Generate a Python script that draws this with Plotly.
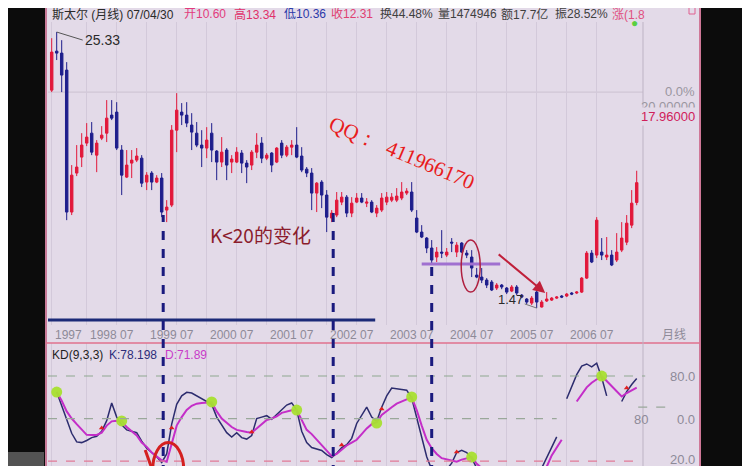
import plotly.graph_objects as go

W, H = 750, 466

# ---------------- data ----------------
tick_pos = [0, 7, 13, 19, 25, 31, 37, 43, 49, 55, 61, 67, 73, 79, 85, 91, 97, 103, 109]
tick_text = ["1997", "1998", "07", "1999", "07", "2000", "07", "2001", "07", "2002", "07",
             "2003", "07", "2004", "07", "2005", "07", "2006", "07"]

open_ = [20.31, 23.68, 23.51, 22.04, 9.77, 13.14, 14.52, 15.73, 16.59, 14.69,
         16.16, 16.59, 18.15, 18.41, 15.13, 12.79, 14.00, 14.26, 14.43, 12.36,
         13.14, 12.36, 12.71, 9.94, 10.37, 16.85, 18.41, 18.15, 17.29, 16.59,
         15.56, 15.30, 16.59, 15.04, 14.09, 15.13, 14.09, 14.09, 14.87, 14.00,
         13.83, 14.95, 15.73, 14.43, 14.87, 14.09, 15.73, 14.69, 15.38, 15.56,
         14.61, 13.48, 13.14, 11.41, 12.36, 11.24, 9.25, 9.51, 10.63, 11.06,
         9.68, 10.63, 10.98, 10.54, 10.63, 9.68, 9.94, 10.63, 10.80, 10.80,
         10.98, 11.41, 11.50, 9.25, 8.04, 7.52, 6.66, 5.88, 6.31, 6.05,
         7.17, 6.31, 7.09, 6.22, 5.88, 4.32, 4.15, 3.89, 3.72, 3.20,
         3.46, 3.20, 2.94, 3.29, 2.59, 2.25, 1.90, 2.85, 1.56, 2.08,
         2.16, 2.33, 2.51, 2.51, 2.77, 2.77, 2.85, 4.06, 6.22, 6.05,
         6.31, 5.88, 6.05, 5.62, 6.48, 7.17, 8.64, 10.60]
high = [24.80, 25.33, 24.63, 22.73, 13.83, 15.56, 16.59, 17.46, 17.55, 15.99,
        17.20, 19.45, 19.45, 19.27, 15.56, 15.13, 15.13, 15.30, 14.69, 13.22,
        13.31, 12.96, 13.14, 10.80, 17.29, 20.05, 19.19, 19.27, 18.32, 17.55,
        16.85, 17.11, 17.46, 15.13, 16.25, 15.30, 14.69, 15.38, 15.13, 14.26,
        15.13, 16.59, 16.25, 14.87, 14.95, 15.38, 15.99, 15.56, 15.99, 17.11,
        15.38, 13.66, 13.57, 12.36, 12.53, 11.67, 9.94, 11.50, 11.50, 11.24,
        11.06, 11.41, 11.41, 10.98, 10.80, 10.37, 11.41, 11.50, 11.41, 11.84,
        12.36, 11.84, 12.36, 9.94, 8.64, 7.61, 7.35, 6.74, 8.21, 6.66,
        7.52, 7.17, 7.17, 6.48, 6.48, 4.93, 4.93, 4.06, 3.89, 3.63,
        3.55, 3.29, 3.46, 3.46, 2.68, 2.33, 2.51, 3.03, 2.16, 2.85,
        2.42, 2.51, 2.59, 2.77, 2.85, 2.94, 4.15, 6.40, 6.48, 9.33,
        7.52, 7.61, 6.48, 7.95, 8.90, 9.51, 11.67, 13.34]
low = [20.14, 22.91, 20.14, 9.07, 9.51, 12.88, 13.66, 15.47, 14.69, 13.22,
       15.99, 15.82, 17.72, 15.13, 11.24, 12.71, 12.71, 14.09, 11.93, 11.67,
       11.67, 12.27, 9.33, 8.90, 10.20, 14.95, 17.29, 17.11, 15.13, 15.38,
       13.66, 14.43, 14.09, 12.53, 13.66, 12.53, 13.14, 14.00, 13.14, 12.27,
       13.40, 14.43, 14.00, 14.26, 13.22, 14.00, 14.43, 14.52, 14.69, 14.43,
       13.22, 12.79, 9.94, 9.77, 10.11, 8.04, 8.90, 9.33, 10.37, 9.33,
       9.33, 10.54, 10.54, 10.20, 9.68, 9.33, 9.77, 10.37, 10.63, 10.63,
       10.80, 11.24, 9.77, 7.95, 7.52, 6.22, 5.19, 5.45, 5.79, 5.88,
       6.31, 5.88, 6.22, 5.79, 4.15, 4.06, 3.63, 3.20, 2.94, 3.03,
       3.10, 2.68, 2.85, 2.59, 2.33, 1.82, 1.73, 1.47, 1.52, 2.00,
       2.08, 2.25, 2.33, 2.42, 2.59, 2.68, 2.77, 3.98, 5.36, 5.79,
       5.62, 5.62, 5.10, 5.45, 6.31, 6.91, 8.38, 10.36]
close = [23.60, 23.51, 21.61, 9.77, 12.96, 13.66, 15.56, 16.25, 14.95, 15.73,
         16.42, 17.89, 17.89, 15.30, 12.96, 13.83, 14.26, 14.61, 12.27, 12.96,
         12.36, 12.71, 9.77, 10.20, 16.85, 18.58, 18.15, 17.46, 16.68, 15.56,
         15.30, 15.99, 15.13, 14.09, 14.95, 13.83, 14.35, 14.95, 14.00, 13.66,
         14.95, 15.56, 14.43, 14.69, 13.83, 15.30, 14.69, 15.38, 15.56, 14.52,
         13.40, 13.14, 11.41, 12.27, 11.24, 9.33, 9.68, 10.80, 11.06, 9.68,
         10.54, 10.98, 10.63, 10.63, 9.77, 10.11, 10.98, 11.06, 11.06, 11.15,
         11.50, 11.58, 9.94, 8.04, 7.61, 6.66, 5.62, 6.31, 6.22, 6.31,
         7.09, 6.91, 6.31, 6.05, 4.93, 4.15, 3.89, 3.46, 3.03, 3.46,
         3.29, 2.85, 3.29, 2.77, 2.42, 1.99, 2.33, 1.99, 1.99, 2.25,
         2.33, 2.42, 2.42, 2.68, 2.68, 2.85, 4.06, 6.22, 5.45, 9.07,
         6.05, 6.05, 5.19, 6.31, 7.52, 8.81, 10.54, 12.31]

k_vals = [None, 68.7, 59, 49, 39.6, 33.5, 33, 34.5, 36.5, 37.5,
          41, 48.5, 61, 51, 45.5, 42, 41, 40, 34, 29,
          26, 23, 19, 25, 46, 60, 66, 68.5, 68, 66,
          64, 62.5, 60, 51, 45, 40, 37, 40, 36.5, 35.5,
          38, 50, 51, 52, 49.5, 53, 56.5, 59.5, 61, 56,
          41, 33, 29.5, 28.5, 27.5, 24.5, 22.5, 25.5, 29.5, 31.5,
          36, 46.5, 52, 58, 51, 48, 58, 66, 71.5, 71,
          70.5, 70, 64.5, 51, 36, 23, 14, 11, 12, 14,
          18.5, 26, 27.5, 26, 22, 15, 10, 8, 7, 6,
          5, 5, 4, 4, 5, 6, 8, 11, 15, 22.5,
          29, 37, None, 64, 72, 81, 87, 88.5, 86.5, 89,
          79, 66, None, None, 62, 69, 74, 78.198]
d_vals = [None, 68.7, 62.5, 55, 50, 46, 42, 38.5, 38.4, 38.4,
          40, 45, 48, 48.5, 48.3, 44, 41, 38, 33, 30,
          26, 23, 20.5, 19.5, 33, 45, 51, 56, 59, 60.5,
          61, 61.5, 61.5, 55, 50, 47, 44, 42, 41, 40.5,
          40, 43, 46, 49, 50, 51.5, 54, 55, 55.8, 56,
          49, 42, 39, 35, 31, 27, 23.5, 25, 28, 31,
          33, 35, 39, 43, 46, 47.5, 52.5, 55.5, 58, 60.5,
          61.8, 63.5, 65, 56, 45, 35, 29, 25, 22, 21,
          20, 19.5, 21, 22, 22.8, 18, 15, 12, 10, 9,
          8, 7, 6, 6, 6, 6, 7, 8, 10, 16,
          24, 30, 35, None, None, 62, 67, 72, 75.3, 77.9,
          80, 76.5, 73, 69, 65.5, 68, 70, 71.89]

cross_month = [1, 14, 32, 49, 65, 72, 84, 110]
cross_value = [68.7, 48.3, 61.7, 56, 46.8, 65.2, 22.8, 80]
sig_month = [10, 24, 40, 58, 66, 81, 115]
sig_value = [43.3, 43.3, 40.5, 31.3, 56.7, 26.4, 71.5]

mark_months = [22.3, 56.3, 76]          # dashed "K<20" markers
mark_prices = [9.51, 10.11, 5.45]

n = len(close)
xs = list(range(n))

# ---------------- geometry ----------------
BG = "#e3dae8"
GRID = "#d3c9da"
RED = "#e2183a"
NAVY = "#1e1e8c"
OFF = 8  # page offset of the figure inside the window


def PX(x):
    return (x - OFF) / W


def PY(y):
    return 1 - (y - OFF) / H


x_range = [-0.74, 129.66]
y_range = [0.006, 26.2]
k_range = [10.85, 103.3]
x_dom = [PX(48), PX(700)]
y_dom = [PY(325), PY(22)]
k_dom = [0, PY(343)]


def price_to_paper(p):
    return y_dom[0] + (p - y_range[0]) / (y_range[1] - y_range[0]) * (y_dom[1] - y_dom[0])


fig = go.Figure()

fig.add_trace(go.Candlestick(
    x=xs, open=open_, high=high, low=low, close=close,
    increasing=dict(line=dict(color=RED, width=1), fillcolor=RED),
    decreasing=dict(line=dict(color=NAVY, width=1), fillcolor=NAVY),
    whiskerwidth=0, xaxis="x", yaxis="y", showlegend=False, hoverinfo="skip"))

fig.add_trace(go.Scatter(x=xs, y=k_vals, mode="lines", line=dict(color="#2c2c6e", width=1.5),
                         xaxis="x2", yaxis="y2", showlegend=False, connectgaps=False))
fig.add_trace(go.Scatter(x=xs, y=d_vals, mode="lines", line=dict(color="#c42ec8", width=2),
                         xaxis="x2", yaxis="y2", showlegend=False, connectgaps=False))
fig.add_trace(go.Scatter(x=cross_month, y=cross_value, mode="markers",
                         marker=dict(color="#a8e030", size=11, opacity=0.95),
                         xaxis="x2", yaxis="y2", showlegend=False))
fig.add_trace(go.Scatter(x=sig_month, y=sig_value, mode="markers",
                         marker=dict(color="#e02020", size=5, symbol="triangle-up"),
                         xaxis="x2", yaxis="y2", showlegend=False))

shapes = []
shapes.append(dict(type="rect", xref="paper", yref="paper", x0=PX(45), x1=PX(701), y0=0, y1=PY(2),
                   fillcolor=BG, line=dict(width=0), layer="below"))
shapes.append(dict(type="line", xref="paper", yref="paper", x0=PX(46), x1=PX(46), y0=0, y1=PY(2),
                   line=dict(color="#c87a98", width=2)))
shapes.append(dict(type="line", xref="paper", yref="paper", x0=PX(700), x1=PX(700), y0=0, y1=PY(2),
                   line=dict(color="#d07898", width=2)))
shapes.append(dict(type="line", xref="paper", yref="paper", x0=PX(45), x1=PX(701), y0=PY(3), y1=PY(3),
                   line=dict(color="#d07898", width=2)))
shapes.append(dict(type="line", xref="paper", yref="paper", x0=PX(46), x1=PX(700), y0=PY(343), y1=PY(343),
                   line=dict(color="#e0708e", width=1.5)))
shapes.append(dict(type="line", xref="x", yref="paper", x0=118.26, x1=118.26, y0=0, y1=PY(22),
                   line=dict(color="#bdb3c4", width=1)))
shapes.append(dict(type="line", xref="x", yref="y", x0=x_range[0], x1=118.26, y0=20.14, y1=20.14,
                   line=dict(color="#cbc1d0", width=1), layer="below"))
shapes.append(dict(type="line", xref="x2", yref="y2", x0=x_range[0], x1=118.7, y0=80, y1=80,
                   line=dict(color="#8fa88f", width=1.2, dash="dash")))
shapes.append(dict(type="line", xref="x2", yref="y2", x0=x_range[0], x1=101, y0=50, y1=50,
                   line=dict(color="#9aa89a", width=1.2, dash="dash")))
shapes.append(dict(type="line", xref="x2", yref="y2", x0=x_range[0], x1=116.7, y0=20, y1=20,
                   line=dict(color="#e27a96", width=1.2, dash="dash")))
shapes.append(dict(type="line", xref="x2", yref="y2", x0=117.3, x1=124.1, y0=58.1, y1=58.1,
                   line=dict(color="#9aa89a", width=1.2, dash="dash")))
shapes.append(dict(type="line", xref="x", yref="y", x0=x_range[0], x1=64.7, y0=0.44, y1=0.44,
                   line=dict(color="#1c2a78", width=3)))
shapes.append(dict(type="line", xref="x", yref="y", x0=74, x1=89.7, y0=5.28, y1=5.28,
                   line=dict(color="#a070d0", width=3)))
shapes.append(dict(type="circle", xref="x", yref="y", x0=81.9, x1=85.7, y0=2.85, y1=7.35,
                   line=dict(color="#b02040", width=1.5)))
for mm, pp in zip(mark_months, mark_prices):
    shapes.append(dict(type="line", xref="x", yref="paper", x0=mm, x1=mm, y0=0, y1=price_to_paper(pp),
                       line=dict(color="#1a1a7e", width=3, dash="dash"), layer="above"))
shapes.append(dict(type="circle", xref="x2", yref="y2", x0=20.2, x1=26.4, y0=-5, y1=33,
                   line=dict(color="#d42020", width=3)))
shapes.append(dict(type="line", xref="x2", yref="y2", x0=18.7, x1=20.1, y0=27.8, y1=14,
                   line=dict(color="#d42020", width=3)))
shapes.append(dict(type="rect", xref="paper", yref="paper", x0=PX(689), x1=PX(695), y0=PY(14), y1=PY(7),
                   line=dict(color="#e06090", width=1)))
shapes.append(dict(type="rect", xref="paper", yref="paper", x0=PX(0), x1=PX(44), y0=0, y1=PY(452),
                   fillcolor="#9a9a9a", line=dict(width=0), opacity=0.5))

ann = []
FONT = "Liberation Sans, Noto Sans CJK SC, sans-serif"


def txt(x, y, s, color, size=12, anchor="left", family=FONT, **kw):
    d = dict(xref="paper", yref="paper", x=PX(x), y=PY(y), text=s, showarrow=False,
             xanchor=anchor, yanchor="middle", font=dict(color=color, size=size, family=family))
    d.update(kw)
    ann.append(d)


header = [("斯太尔 (月线) 07/04/30", 50, "#2a2a2a"), ("开10.60", 182, "#e23a7c"),
          ("高13.34", 232, "#e0306a"), ("低10.36", 282, "#2a38a8"), ("收12.31", 329, "#e04070"),
          ("换44.48%", 378, "#404040"), ("量1474946", 436, "#404040"), ("额17.7亿", 499, "#404040"),
          ("振28.52%", 553, "#404040"), ("涨(1.8", 610, "#e05080")]
for s, x, c in header:
    txt(x, 14, s, c, size=12)
ann.append(dict(xref="paper", yref="paper", x=PX(640), y=PY(12), text="●", showarrow=False,
                font=dict(color="#58d040", size=12)))

for p, t in zip(tick_pos, tick_text):
    ann.append(dict(xref="x", yref="paper", x=p, y=PY(335), text=t, showarrow=False,
                    xanchor="left", yanchor="middle", xshift=1,
                    font=dict(color="#8e8a98", size=12, family=FONT)))
txt(660, 335, "月线", "#8e8a98", size=12)

txt(697, 92, "0.0%", "#9a96a0", size=13, anchor="right")
txt(697, 107, "20.00000", "#9a96a0", size=13, anchor="right")
txt(697, 117, "17.96000", "#d0205a", size=13, anchor="right", bgcolor=BG)

txt(50, 355, "KD(9,3,3)", "#1e1e1e", size=12)
txt(107, 355, "K:78.198", "#2d2d7a", size=12)
txt(163, 355, "D:71.89", "#c83cc8", size=12)
txt(697, 376, "80.0", "#8e8a98", size=13, anchor="right")
txt(697, 419, "0.0", "#8e8a98", size=13, anchor="right")
txt(697, 459, "20.0", "#8e8a98", size=13, anchor="right")
txt(641, 419, "80", "#8e8a98", size=13, anchor="center")

ann.append(dict(xref="x", yref="y", x=1, y=25.33, text="25.33", showarrow=True, arrowhead=0,
                arrowcolor="#555", arrowwidth=1, ax=26, ay=8, xanchor="left",
                font=dict(color="#2a2a2a", size=14, family=FONT)))
ann.append(dict(xref="x", yref="y", x=97, y=1.47, text="1.47", showarrow=True, arrowhead=0,
                arrowcolor="#777", arrowwidth=1, ax=-26, ay=-9,
                font=dict(color="#2a2a2a", size=13, family=FONT)))
ann.append(dict(xref="x", yref="y", x=98.7, y=2.77, ax=89.1, ay=6.22, axref="x", ayref="y",
                showarrow=True, arrowhead=2, arrowsize=1.2, arrowwidth=2, arrowcolor="#c0203a", text=""))
txt(260, 235, "K&lt;20的变化", "#8b1c2c", size=19, anchor="center",
    family="Noto Sans CJK SC, sans-serif")
ann.append(dict(xref="paper", yref="paper", x=PX(402), y=PY(153), text="QQ：  411966170",
                showarrow=False, textangle=23, xanchor="center", yanchor="middle",
                font=dict(color="#e81c1c", size=21, family="Liberation Serif, serif")))

fig.update_layout(
    width=W, height=H, margin=dict(l=0, r=0, t=0, b=0),
    paper_bgcolor="#0c0c0c", plot_bgcolor=BG,
    showlegend=False, shapes=shapes, annotations=ann,
    xaxis=dict(domain=x_dom, range=x_range, anchor="y", tickvals=tick_pos, showticklabels=False,
               showgrid=True, gridcolor=GRID, gridwidth=1, zeroline=False, ticks="",
               rangeslider=dict(visible=False), fixedrange=True),
    xaxis2=dict(domain=x_dom, range=x_range, anchor="y2", tickvals=tick_pos, showticklabels=False,
                showgrid=True, gridcolor=GRID, gridwidth=1, zeroline=False, ticks="", fixedrange=True),
    yaxis=dict(domain=y_dom, range=y_range, anchor="x", showgrid=False, showticklabels=False,
               zeroline=False, ticks="", fixedrange=True),
    yaxis2=dict(domain=k_dom, range=k_range, anchor="x2", showgrid=False, showticklabels=False,
                zeroline=False, ticks="", fixedrange=True),
)

fig.write_html("out.html")
